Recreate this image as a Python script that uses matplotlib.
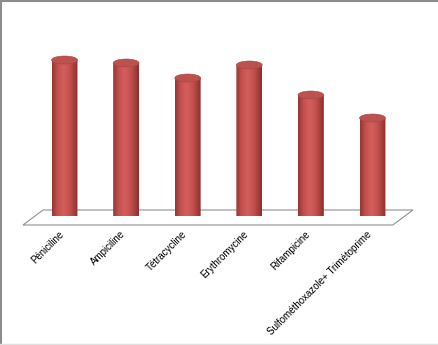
import numpy as np
import matplotlib
matplotlib.use("Agg")
import matplotlib.pyplot as plt
from matplotlib.patches import Ellipse, PathPatch, Polygon
from matplotlib.path import Path
from matplotlib.colors import LinearSegmentedColormap
from matplotlib.lines import Line2D

categories = ["Péniciline", "Ampiciline", "Tétracycline", "Erythromycine",
              "Rifampicine", "Sulfométhoxazole+ Trimétoprime"]
values = [78, 76.5, 69, 75.5, 60.5, 49]

W, H = 438, 345
fig = plt.figure(figsize=(W / 100, H / 100), dpi=100)
fig.patch.set_facecolor("white")
ax = fig.add_axes([21.4 / W, 129 / H, 394.2 / W, 200 / H])
ax.set_xlim(-0.7, 5.7)
ax.set_ylim(0, 100)
ax.axis("off")

# floor
floor = Polygon([(-0.674, -4.5), (-0.349, 3), (5.657, 3), (5.33, -4.5)],
                closed=True, facecolor="white", edgecolor="#909090", lw=0.8,
                clip_on=False, zorder=1)
ax.add_patch(floor)

cmap = LinearSegmentedColormap.from_list(
    "cyl", [(0, "#933734"), (0.2, "#c24f4c"), (0.45, "#d3605d"),
            (0.7, "#c44f4c"), (1, "#8a302d")])
grad = np.linspace(0, 1, 64).reshape(1, -1)

bw = 0.42
eh = 4.0
for i, v in enumerate(values):
    x0, x1 = i - bw / 2, i + bw / 2
    t = np.linspace(np.pi, 2 * np.pi, 40)
    arc = np.column_stack([i + bw / 2 * np.cos(t), -0.3 + eh / 2 * np.sin(t)])
    verts = [(x0, v)] + [tuple(p) for p in arc] + [(x1, v), (x0, v)]
    codes = [Path.MOVETO] + [Path.LINETO] * (len(verts) - 2) + [Path.CLOSEPOLY]
    body = PathPatch(Path(verts, codes), facecolor="none", edgecolor="none")
    ax.add_patch(body)
    im = ax.imshow(grad, cmap=cmap, aspect="auto",
                   extent=(x0, x1, -eh, v), zorder=3, interpolation="bilinear")
    im.set_clip_path(body)
    top = Ellipse((i, v), bw, eh, facecolor="#bb524f", edgecolor="#a84542",
                  lw=0.4, zorder=4)
    ax.add_patch(top)
    ax.text(i - 0.1, -6.5, categories[i], rotation=45, rotation_mode="anchor",
            ha="right", va="top", fontsize=7, family="Liberation Sans",
            color="black", clip_on=False)

ax.set_xlim(-0.7, 5.7)
ax.set_ylim(0, 100)

# chart frame
fig.add_artist(Line2D([0, 1], [1 - 1 / H, 1 - 1 / H], color="#8c8c8c", lw=1.5,
                      transform=fig.transFigure))
fig.add_artist(Line2D([1 / W, 1 / W], [0, 1], color="#8c8c8c", lw=1.5,
                      transform=fig.transFigure))
fig.add_artist(Line2D([0, 1], [1.5 / H, 1.5 / H], color="#e0e0e0", lw=1,
                      transform=fig.transFigure))

fig.savefig("out.png", dpi=100)
